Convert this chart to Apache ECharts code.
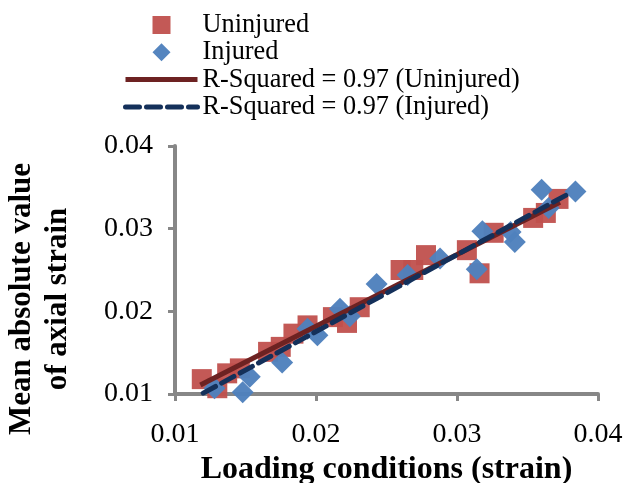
<!DOCTYPE html>
<html>
<head>
<meta charset="utf-8">
<script src="https://cdn.jsdelivr.net/npm/echarts@6/dist/echarts.min.js"></script>
<style>html,body{margin:0;padding:0;background:#fff}#c{width:624px;height:483px}</style>
</head>
<body>
<div id="c"></div>
<script>
const uninjuredX = [0.0119,0.0130,0.0137,0.0146,0.0166,0.0175,0.0184,0.0194,0.0212,0.0222,0.0231,0.0260,0.0269,0.0278,0.0307,0.0316,0.0326,0.0354,0.0363,0.0372];
const uninjuredY = [0.0118,0.0107,0.0125,0.0131,0.0151,0.0157,0.0173,0.0183,0.0193,0.0186,0.0205,0.0250,0.0250,0.0268,0.0274,0.0246,0.0295,0.0313,0.0319,0.0336];
const injuredX = [0.0128,0.0148,0.0153,0.0176,0.0194,0.0201,0.0217,0.0224,0.0243,0.0265,0.0288,0.0314,0.0318,0.0338,0.0341,0.0360,0.0365,0.0384];
const injuredY = [0.0107,0.0102,0.0121,0.0138,0.0179,0.0171,0.0203,0.0194,0.0233,0.0244,0.0264,0.0251,0.0297,0.0296,0.0284,0.0347,0.0325,0.0345];
const trendUninjuredX = [0.0118,0.0373];
const trendUninjuredY = [0.0111,0.0332];
const trendInjuredX = [0.0120,0.0380];
const trendInjuredY = [0.0101,0.0343];
const xTicks = [0.01,0.02,0.03,0.04];
const yTicks = [0.01,0.02,0.03,0.04];
const names = ['Uninjured','Injured','R-Squared = 0.97 (Uninjured)','R-Squared = 0.97 (Injured)'];

const zip = (a,b) => a.map((v,i)=>[v,b[i]]);
const serif = '"Liberation Serif","Times New Roman",serif';
const axisGray = '#878787';
const red = '#C0504D', blue = '#4F81BD', darkRed = '#6d2222', navy = '#14305a';

const chart = echarts.init(document.getElementById('c'), null, {renderer:'canvas'});
chart.setOption({
  animation:false,
  backgroundColor:'#fff',
  legend:{
    orient:'vertical', left:123, top:12, padding:0,
    itemWidth:72, itemHeight:18, itemGap:1.3,
    symbolKeepAspect:true,
    data:[
      {name:names[0], icon:'path://M0,0H10V10H0Z'},
      {name:names[1], icon:'path://M5,0L10,5L5,10L0,5Z'},
      {name:names[2], itemStyle:{opacity:0}, lineStyle:{width:5, color:darkRed}},
      {name:names[3], itemStyle:{opacity:0}, lineStyle:{width:5, color:navy, type:[14,7], cap:'round'}}
    ],
    textStyle:{fontFamily:serif, fontSize:26.3, color:'#000'}
  },
  grid:{left:175, right:26, top:146, bottom:89, containLabel:false, outerBoundsMode:'none'},
  xAxis:{
    type:'value', min:xTicks[0], max:xTicks[xTicks.length-1], interval:0.01,
    splitLine:{show:false},
    axisLine:{show:true, onZero:false, lineStyle:{color:axisGray, width:4}},
    axisTick:{show:true, length:7, lineStyle:{color:axisGray, width:3}},
    axisLabel:{margin:27, fontFamily:serif, fontSize:28, color:'#000', formatter:v=>v.toFixed(2)},
    name:'Loading conditions (strain)', nameLocation:'middle', nameGap:51,
    nameTextStyle:{fontFamily:serif, fontSize:32, fontWeight:'bold', color:'#000'}
  },
  yAxis:{
    type:'value', min:yTicks[0], max:yTicks[yTicks.length-1], interval:0.01,
    splitLine:{show:false},
    axisLine:{show:true, onZero:false, lineStyle:{color:axisGray, width:4}},
    axisTick:{show:true, length:7, lineStyle:{color:axisGray, width:3}},
    axisLabel:{margin:22, fontFamily:serif, fontSize:28, color:'#000', formatter:v=>v.toFixed(2)}
  },
  graphic:[{
    type:'text', x:40, y:299, rotation:Math.PI/2,
    style:{text:'Mean absolute value\nof axial strain', fontFamily:serif, fontSize:31, fontWeight:'bold', fill:'#000', align:'center', verticalAlign:'middle', lineHeight:36}
  }],
  series:[
    {name:names[0], type:'scatter', symbol:'rect', symbolSize:20, z:2,
     itemStyle:{color:red, opacity:0.95}, data:zip(uninjuredX,uninjuredY)},
    {name:names[1], type:'scatter', symbol:'diamond', symbolSize:22, z:3,
     itemStyle:{color:blue, opacity:0.97}, data:zip(injuredX,injuredY)},
    {name:names[2], type:'line', symbol:'none', z:4,
     lineStyle:{color:darkRed, width:5}, itemStyle:{color:darkRed}, data:zip(trendUninjuredX,trendUninjuredY)},
    {name:names[3], type:'line', symbol:'none', z:5,
     lineStyle:{color:navy, width:5, type:[14,7], cap:'round'}, itemStyle:{color:navy}, data:zip(trendInjuredX,trendInjuredY)}
  ]
});
</script>
</body>
</html>
